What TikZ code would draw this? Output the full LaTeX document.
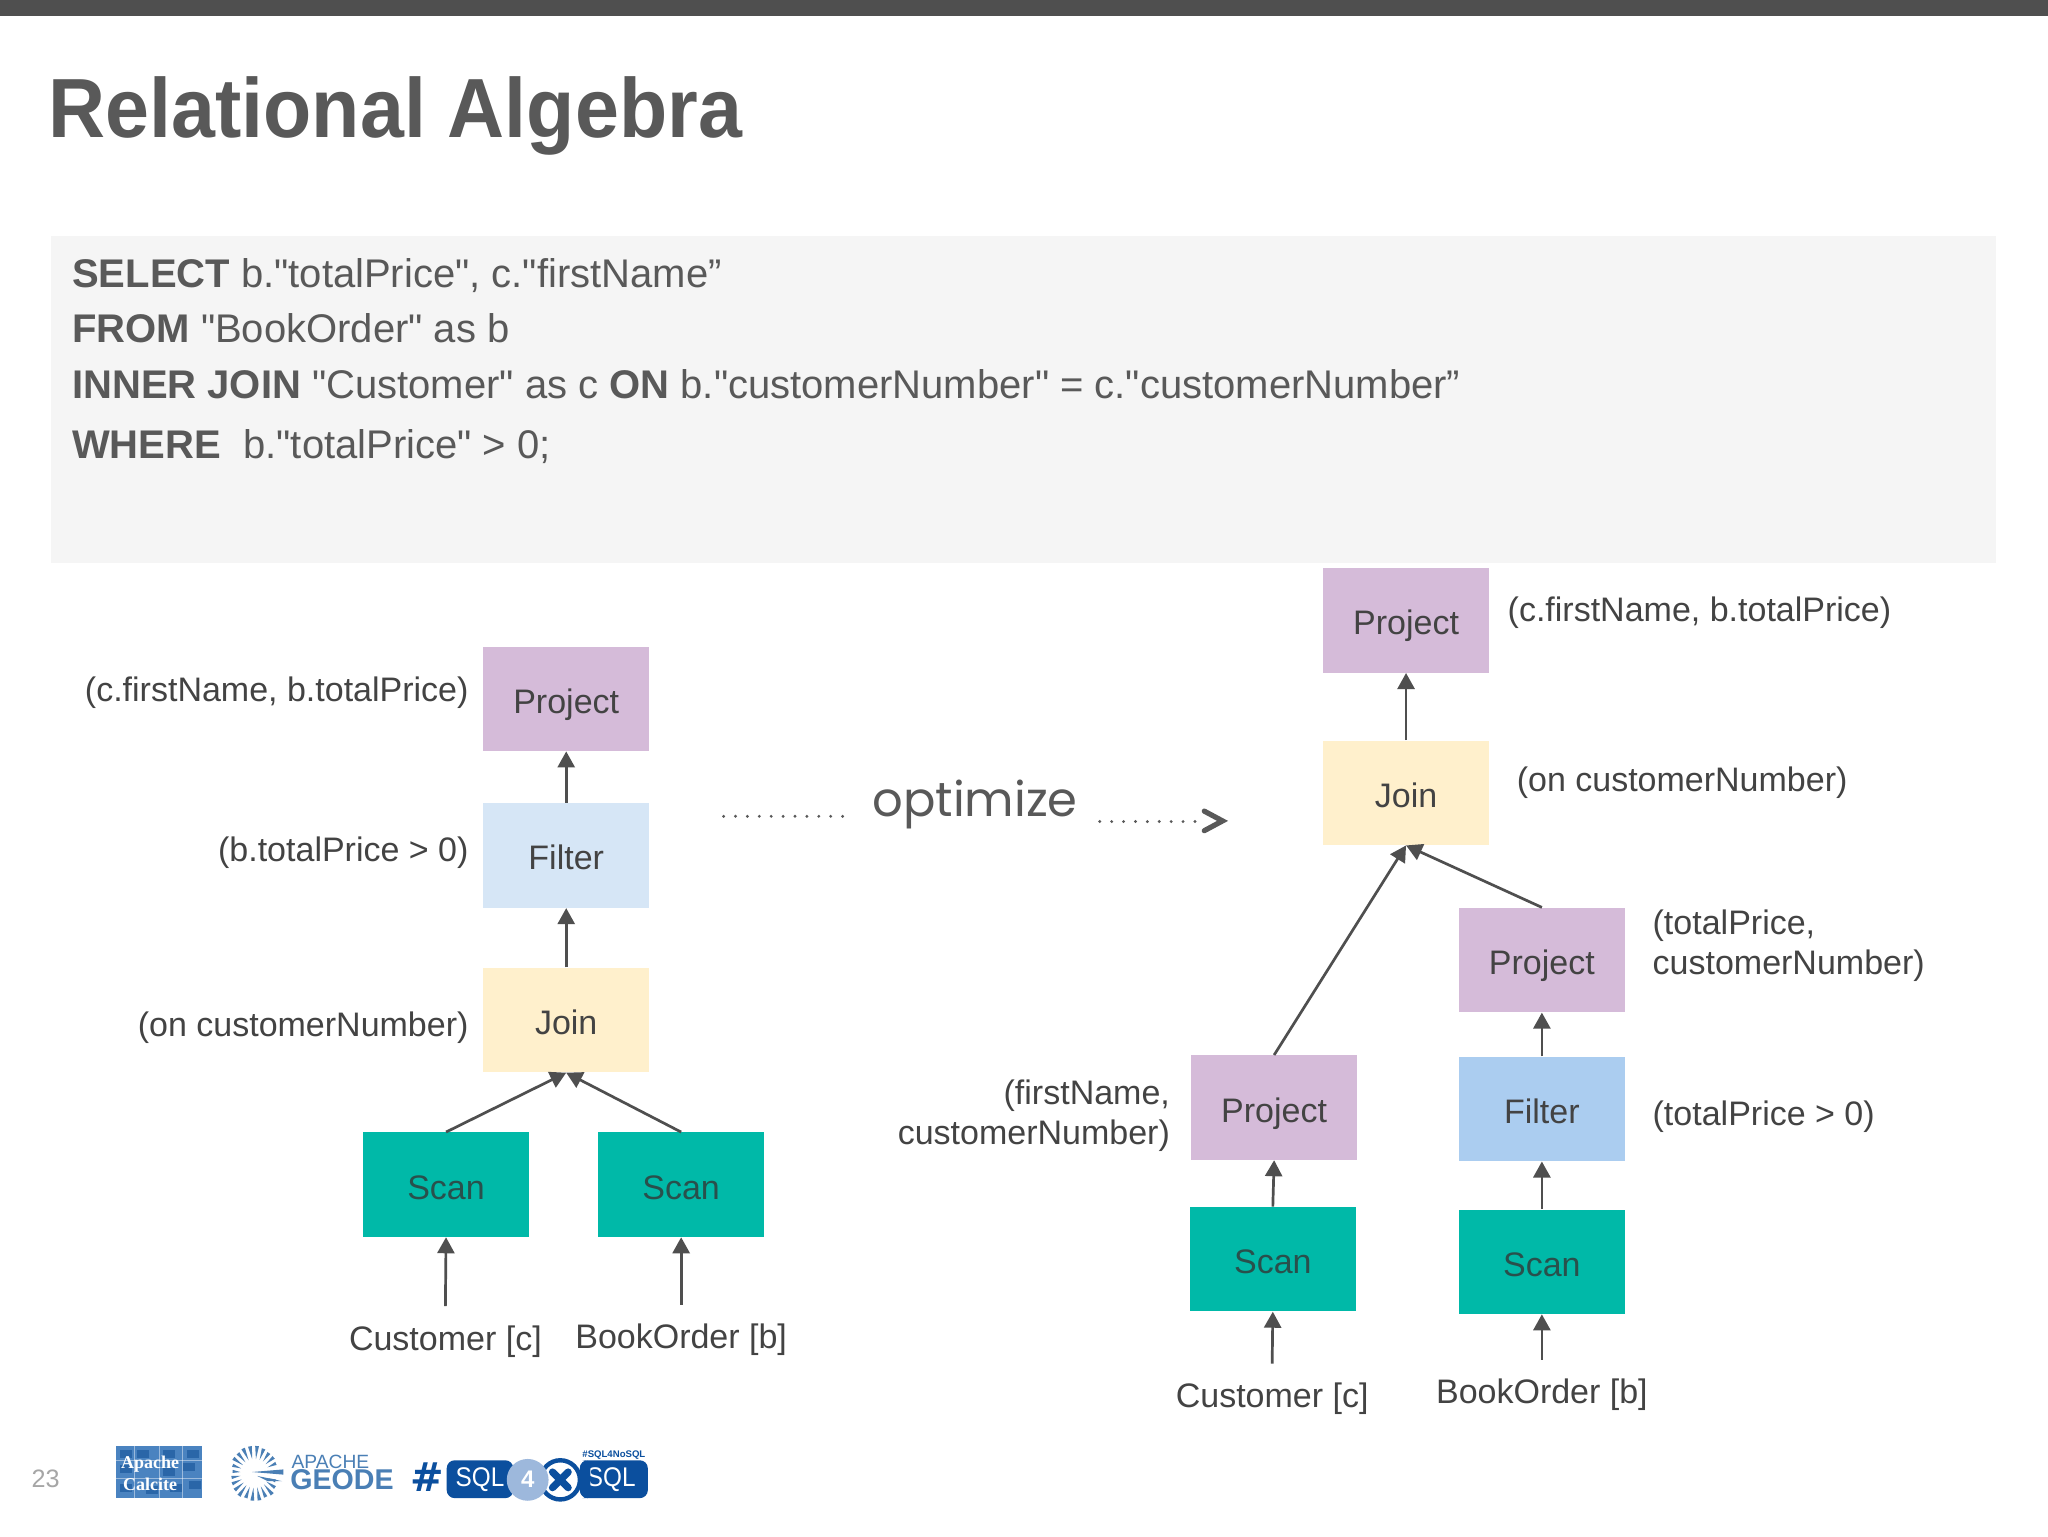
\documentclass[tikz,border=0pt]{standalone}
\usepackage{fontspec}
\setmainfont{Liberation Sans}[Ligatures=TeXOff]
\newfontfamily\handfont{Poppins}
\newfontfamily\calfont{Liberation Serif}
\newfontfamily\hashfont{DejaVu Sans}
\usetikzlibrary{arrows.meta,calc}
\definecolor{ink}{HTML}{434343}
\definecolor{head}{HTML}{595959}
\definecolor{arrowc}{HTML}{4F4F4F}
\definecolor{logoblue}{HTML}{0B4F9E}
\definecolor{geodeblue}{HTML}{4A7FB5}
\definecolor{ProjC}{HTML}{D5BBD9}
\definecolor{FiltC}{HTML}{D6E6F6}
\definecolor{FiltD}{HTML}{ABCDF0}
\definecolor{JoinC}{HTML}{FFF0CC}
\definecolor{ScanC}{HTML}{00B9A8}
\definecolor{ScanT}{HTML}{29504C}
\definecolor{codebg}{HTML}{F5F5F5}
\definecolor{calcA}{HTML}{4A83C0}
\definecolor{calcB}{HTML}{2A66A8}
\definecolor{fourC}{HTML}{9DB8DC}
\tikzset{
  x=0.65306pt,y=-0.65306pt,
  opbox/.style={minimum width=82.9pt,minimum height=52.2pt,inner sep=0pt,text height=14.4pt,text depth=0pt,font=\fontsize{17}{20}\selectfont,text=ink},
  projbox/.style={opbox,fill=ProjC},
  filtbox/.style={opbox,fill=FiltC},
  filtboxb/.style={opbox,fill=FiltD},
  joinbox/.style={opbox,fill=JoinC},
  scanbox/.style={opbox,fill=ScanC,text=ScanT},
  lbl/.style={font=\fontsize{17}{20}\selectfont,text=ink,inner sep=0pt},
  code/.style={anchor=base west,inner sep=0pt,font=\fontsize{20}{24}\selectfont,text=head},
  conn/.style={draw=arrowc,line width=1.35pt,-{Triangle[length=8pt,width=8.5pt]}},
  dotline/.style={draw=head,line width=1.6pt,line cap=round,dash pattern=on 0pt off 5.95pt},
}
\begin{document}
\begin{tikzpicture}
\useasboundingbox (0,0) rectangle (1568,1176);
\fill[white] (0,0) rectangle (1568,1176);
\fill[arrowc] (0,0) rectangle (1568,12);
\fill[codebg] (39,181) rectangle (1528,431);
\node[anchor=base west,inner sep=0pt,font=\bfseries\fontsize{42}{48}\selectfont,text=head] (title) at (37,105) {\scalebox{0.94}[1]{Relational Algebra}};
\node[code] (l1) at (55,220) {\textbf{SELECT} b."totalPrice", c."firstName”};
\node[code] (l2) at (55,262) {\textbf{FROM} "BookOrder" as b};
\node[code] (l3) at (55,305) {\textbf{INNER JOIN} "Customer" as c \textbf{ON} b."customerNumber" = c."customerNumber”};
\node[code] (l4) at (55,351) {\textbf{WHERE}\ \ b."totalPrice" > 0;};

% left tree
\node[projbox] (lp) at (433.5,535) {Project};
\node[filtbox] (lf) at (433.5,655) {Filter};
\node[joinbox] (lj) at (433.5,781) {Join};
\node[scanbox] (ls1) at (341.5,907) {Scan};
\node[scanbox] (ls2) at (521.5,907) {Scan};
\node[lbl,anchor=east] (lpl) at (359,530) {(c.firstName, b.totalPrice)};
\node[lbl,anchor=east] (lfl) at (359,653) {(b.totalPrice > 0)};
\node[lbl,anchor=east] (ljl) at (359,787) {(on customerNumber)};
\node[lbl] (lc) at (341,1027) {Customer [c]};
\node[lbl] (lb) at (521.5,1026) {BookOrder [b]};
\draw[conn] (lf.north) -- (lp.south);
\draw[conn] (lj.north) -- (lf.south);
\draw[conn] (ls1.north) -- (lj.south);
\draw[conn] (ls2.north) -- (lj.south);
\draw[conn] ([yshift=9.5pt]lc.north) -- (ls1.south);
\draw[conn] ([yshift=9.5pt]lb.north) -- (ls2.south);

% right tree
\node[projbox] (rp) at (1076.5,475) {Project};
\node[joinbox] (rj) at (1076.5,607) {Join};
\node[projbox] (rp2) at (1180.5,735) {Project};
\node[filtboxb] (rf) at (1180.5,849) {Filter};
\node[scanbox] (rs2) at (1180.5,966) {Scan};
\node[projbox] (rp3) at (975.5,848) {Project};
\node[scanbox] (rs1) at (974.5,964) {Scan};
\node[lbl,anchor=west] (rpl) at (1154,469) {(c.firstName, b.totalPrice)};
\node[lbl,anchor=west] (rjl) at (1161,599) {(on customerNumber)};
\node[lbl,anchor=west,align=left] (rp2l) at (1265,724) {(totalPrice,\\[0pt]customerNumber)};
\node[lbl,anchor=west] (rfl) at (1265,855) {(totalPrice > 0)};
\node[lbl,anchor=east,align=right] (rp3l) at (896,854) {(firstName,\\[0pt]customerNumber)};
\node[lbl] (rc) at (974,1071) {Customer [c]};
\node[lbl] (rb) at (1180.5,1068) {BookOrder [b]};
\draw[conn] (rj.north) -- (rp.south);
\draw[conn] (rp3.north) -- (rj.south);
\draw[conn] (rp2.north) -- (rj.south);
\draw[conn] (rf.north) -- (rp2.south);
\draw[conn] (rs2.north) -- (rf.south);
\draw[conn] (rs1.north) -- (rp3.south);
\draw[conn] ([yshift=9.5pt]rc.north) -- (rs1.south);
\draw[conn] ([yshift=9.5pt]rb.north) -- (rs2.south);

% optimize
\node[inner sep=0pt,font=\handfont\fontsize{24}{28}\selectfont,text=head] (opt) at (746.5,616) {optimize};
\coordinate (d1a) at (554,625);
\coordinate (d1b) at (646,625);
\coordinate (d2a) at (842,629);
\coordinate (d2b) at (922,629);
\draw[dotline] (d1a) -- (d1b);
\draw[dotline] (d2a) -- (d2b);
\draw[head,line width=2.6pt,line cap=round,line join=miter] (922,621) -- (936,628.5) -- (922,636);

% footer
\node[inner sep=0pt,font=\fontsize{12.6}{15}\selectfont,text=black!35] (pg) at (35,1132) {23};
\fill[calcA] (89,1107) rectangle (155,1147);
\foreach \i/\j in {92/1110,105/1110,125/1110,143/1110,92/1122,140/1120,125/1124,92/1136,112/1138,130/1136,145/1134}
  \fill[calcB] (\i,\j) rectangle ++(9,6);
\foreach \i in {103,122,140} \draw[white,opacity=.45,line width=.6pt] (\i,1107) -- (\i,1147);
\foreach \j in {1118,1132} \draw[white,opacity=.45,line width=.6pt] (89,\j) -- (155,\j);
\node[inner sep=0pt,align=center,text=white,font=\calfont\bfseries\fontsize{9}{11}\selectfont] (calc) at (115,1128) {Apache\\Calcite};
\foreach \a/\r in {20/17,35/19,50/21,65/20,80/21,95/21,110/20,125/21,140/20,155/19,170/18,185/17,200/18,215/20,230/20,245/21,260/21,275/21,290/20,305/19,320/19,335/18}
  \fill[geodeblue,shift={(195,1128)}] (\a:11) -- (\a-4:\r) -- (\a+4:\r) -- cycle;
\fill[geodeblue] (195,1128) ++(-2,-1) -- (217,1125) -- (217,1129) -- cycle;
\fill[geodeblue] (197,1130) -- (216,1134) -- (205,1134) -- cycle;
\node[anchor=base west,inner sep=0pt,text=geodeblue,font=\fontsize{9.6}{11}\selectfont] (ap) at (223,1124) {APACHE};
\node[anchor=base west,inner sep=0pt,text=geodeblue,font=\bfseries\fontsize{14.3}{16}\selectfont] (ge) at (222,1140) {GEODE};
\node[inner sep=0pt,text=logoblue,font=\hashfont\bfseries\fontsize{20}{22}\selectfont] (hash) at (327,1131) {\#};
\fill[logoblue,rounded corners=4pt] (342,1118) rectangle (393,1147);
\node[inner sep=0pt,text=white,font=\fontsize{13.5}{16}\selectfont] (s1) at (367.5,1132.5) {\scalebox{0.9}[1]{SQL}};
\fill[logoblue,rounded corners=4pt] (444,1118) rectangle (496,1147);
\node[inner sep=0pt,text=white,font=\fontsize{13.5}{16}\selectfont] (s2) at (468,1132.5) {\scalebox{0.9}[1]{SQL}};
\draw[logoblue,line width=2.2pt,fill=white] (429,1133) circle (15);
\fill[fourC] (404,1133) circle (16);
\node[inner sep=0pt,text=white,font=\bfseries\fontsize{12}{14}\selectfont] (four) at (404,1132.5) {4};
\draw[logoblue,line width=3.6pt,line cap=round] (423,1127) -- (435,1139) (435,1127) -- (423,1139);
\fill[logoblue,rounded corners=4pt] (444,1118) rectangle (452,1147);
\node[inner sep=0pt,text=logoblue,font=\bfseries\fontsize{4.8}{6}\selectfont] (tag) at (470,1114) {\#SQL4NoSQL};
\end{tikzpicture}
\end{document}
